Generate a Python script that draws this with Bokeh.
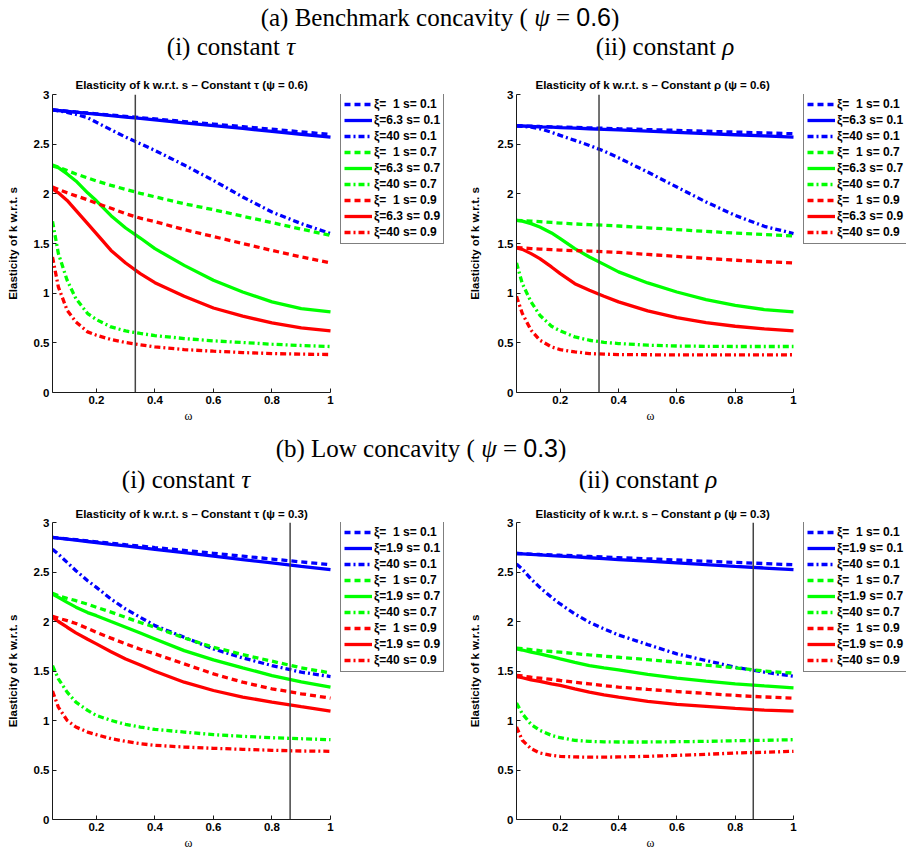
from bokeh.plotting import figure
from bokeh.models import Range1d, FixedTicker, Legend, LegendItem, Div, Title
from bokeh.layouts import column, row
from bokeh.embed import file_html
from bokeh.resources import INLINE

# ---------------- data ----------------
OMEGA = [0.05, 0.07, 0.10, 0.13, 0.17, 0.20, 0.25, 0.30, 0.35, 0.40,
         0.50, 0.60, 0.70, 0.80, 0.90, 1.00]

X_TICKS = [0.2, 0.4, 0.6, 0.8, 1.0]
X_TICK_LABELS = ["0.2", "0.4", "0.6", "0.8", "1"]
Y_TICKS = [0, 0.5, 1, 1.5, 2, 2.5, 3]
Y_TICK_LABELS = ["0", "0.5", "1", "1.5", "2", "2.5", "3"]
X_LIMITS = [0.05, 1.0]
Y_LIMITS = [0, 3]

S_LABELS = ["0.1", "0.7", "0.9"]
XI_LABELS_TOP = ["\u00a0\u00a01", "6.3", "40"]
XI_LABELS_BOTTOM = ["\u00a0\u00a01", "1.9", "40"]

VLINE_TOP = 0.333
VLINE_BOTTOM = 0.862

# (a) psi = 0.6, constant tau
A_TAU_S01_XI1 = [2.845, 2.840, 2.832, 2.824, 2.814, 2.806, 2.793, 2.780, 2.767, 2.754, 2.728, 2.702, 2.676, 2.650, 2.624, 2.598]
A_TAU_S01_XIM = [2.845, 2.839, 2.831, 2.822, 2.810, 2.802, 2.787, 2.773, 2.759, 2.744, 2.715, 2.687, 2.658, 2.629, 2.600, 2.571]
A_TAU_S01_XI40 = [2.845, 2.835, 2.820, 2.800, 2.766, 2.720, 2.645, 2.571, 2.504, 2.437, 2.290, 2.135, 1.968, 1.817, 1.700, 1.600]
A_TAU_S07_XI1 = [2.290, 2.270, 2.235, 2.200, 2.160, 2.130, 2.085, 2.045, 2.005, 1.970, 1.900, 1.840, 1.775, 1.710, 1.645, 1.582]
A_TAU_S07_XIM = [2.280, 2.263, 2.200, 2.130, 2.010, 1.930, 1.780, 1.656, 1.555, 1.448, 1.280, 1.130, 1.012, 0.912, 0.845, 0.811]
A_TAU_S07_XI40 = [1.723, 1.400, 1.130, 0.945, 0.795, 0.734, 0.660, 0.620, 0.595, 0.573, 0.543, 0.520, 0.503, 0.486, 0.473, 0.463]
A_TAU_S09_XI1 = [2.068, 2.045, 2.010, 1.980, 1.940, 1.905, 1.855, 1.800, 1.755, 1.720, 1.640, 1.570, 1.500, 1.430, 1.365, 1.304]
A_TAU_S09_XIM = [2.050, 2.010, 1.934, 1.834, 1.700, 1.600, 1.430, 1.304, 1.197, 1.106, 0.969, 0.851, 0.768, 0.700, 0.650, 0.620]
A_TAU_S09_XI40 = [1.364, 1.063, 0.828, 0.711, 0.610, 0.577, 0.533, 0.503, 0.480, 0.459, 0.432, 0.416, 0.402, 0.392, 0.386, 0.382]

# (a) psi = 0.6, constant rho
A_RHO_S01_XI1 = [2.685, 2.683, 2.681, 2.678, 2.675, 2.672, 2.668, 2.664, 2.660, 2.655, 2.647, 2.639, 2.630, 2.622, 2.613, 2.605]
A_RHO_S01_XIM = [2.685, 2.683, 2.679, 2.675, 2.671, 2.667, 2.661, 2.655, 2.649, 2.643, 2.631, 2.619, 2.607, 2.595, 2.583, 2.571]
A_RHO_S01_XI40 = [2.685, 2.680, 2.672, 2.655, 2.620, 2.588, 2.538, 2.487, 2.430, 2.363, 2.219, 2.068, 1.918, 1.783, 1.673, 1.600]
A_RHO_S07_XI1 = [1.733, 1.731, 1.726, 1.720, 1.712, 1.706, 1.697, 1.690, 1.684, 1.676, 1.658, 1.640, 1.622, 1.605, 1.590, 1.576]
A_RHO_S07_XIM = [1.733, 1.726, 1.700, 1.666, 1.606, 1.549, 1.448, 1.364, 1.290, 1.214, 1.103, 1.012, 0.935, 0.878, 0.835, 0.811]
A_RHO_S07_XI40 = [1.304, 1.096, 0.912, 0.778, 0.667, 0.620, 0.560, 0.526, 0.505, 0.493, 0.476, 0.468, 0.465, 0.463, 0.463, 0.463]
A_RHO_S09_XI1 = [1.458, 1.455, 1.449, 1.444, 1.438, 1.434, 1.428, 1.424, 1.418, 1.410, 1.390, 1.370, 1.350, 1.332, 1.317, 1.304]
A_RHO_S09_XIM = [1.455, 1.441, 1.398, 1.348, 1.264, 1.197, 1.096, 1.029, 0.969, 0.912, 0.821, 0.754, 0.704, 0.667, 0.640, 0.620]
A_RHO_S09_XI40 = [0.969, 0.795, 0.627, 0.526, 0.459, 0.432, 0.409, 0.392, 0.386, 0.382, 0.380, 0.379, 0.379, 0.379, 0.379, 0.380]

# (b) psi = 0.3, constant tau
B_TAU_S01_XI1 = [2.849, 2.843, 2.834, 2.826, 2.814, 2.805, 2.791, 2.776, 2.762, 2.747, 2.718, 2.689, 2.660, 2.631, 2.602, 2.573]
B_TAU_S01_XIM = [2.849, 2.842, 2.832, 2.822, 2.808, 2.798, 2.780, 2.763, 2.746, 2.729, 2.695, 2.660, 2.626, 2.592, 2.557, 2.523]
B_TAU_S01_XI40 = [2.731, 2.680, 2.597, 2.513, 2.412, 2.345, 2.227, 2.126, 2.042, 1.958, 1.841, 1.723, 1.632, 1.555, 1.488, 1.444]
B_TAU_S07_XI1 = [2.284, 2.260, 2.234, 2.210, 2.175, 2.143, 2.095, 2.042, 1.990, 1.942, 1.834, 1.740, 1.666, 1.599, 1.532, 1.481]
B_TAU_S07_XIM = [2.277, 2.245, 2.193, 2.145, 2.090, 2.059, 2.000, 1.942, 1.883, 1.824, 1.706, 1.612, 1.532, 1.454, 1.390, 1.337]
B_TAU_S07_XI40 = [1.555, 1.421, 1.287, 1.186, 1.102, 1.051, 1.001, 0.961, 0.934, 0.910, 0.883, 0.857, 0.840, 0.826, 0.816, 0.806]
B_TAU_S09_XI1 = [2.052, 2.033, 2.009, 1.980, 1.930, 1.891, 1.832, 1.774, 1.720, 1.673, 1.572, 1.471, 1.387, 1.320, 1.270, 1.226]
B_TAU_S09_XIM = [2.042, 2.000, 1.942, 1.885, 1.820, 1.774, 1.695, 1.622, 1.560, 1.498, 1.387, 1.303, 1.236, 1.186, 1.140, 1.095]
B_TAU_S09_XI40 = [1.297, 1.135, 1.001, 0.934, 0.883, 0.857, 0.816, 0.789, 0.766, 0.749, 0.732, 0.719, 0.709, 0.699, 0.692, 0.689]

# (b) psi = 0.3, constant rho
B_RHO_S01_XI1 = [2.687, 2.685, 2.681, 2.677, 2.673, 2.669, 2.663, 2.657, 2.651, 2.645, 2.633, 2.621, 2.609, 2.597, 2.585, 2.573]
B_RHO_S01_XIM = [2.687, 2.684, 2.678, 2.673, 2.666, 2.661, 2.652, 2.644, 2.635, 2.626, 2.609, 2.592, 2.575, 2.557, 2.540, 2.523]
B_RHO_S01_XI40 = [2.580, 2.529, 2.429, 2.345, 2.244, 2.177, 2.076, 1.992, 1.925, 1.864, 1.767, 1.673, 1.606, 1.538, 1.488, 1.448]
B_RHO_S07_XI1 = [1.730, 1.725, 1.715, 1.706, 1.697, 1.690, 1.676, 1.662, 1.650, 1.639, 1.614, 1.589, 1.560, 1.532, 1.500, 1.478]
B_RHO_S07_XIM = [1.723, 1.712, 1.690, 1.672, 1.645, 1.622, 1.588, 1.555, 1.532, 1.512, 1.465, 1.428, 1.397, 1.371, 1.350, 1.330]
B_RHO_S07_XI40 = [1.176, 1.068, 0.961, 0.900, 0.850, 0.826, 0.800, 0.789, 0.785, 0.783, 0.783, 0.786, 0.789, 0.796, 0.800, 0.806]
B_RHO_S09_XI1 = [1.455, 1.450, 1.437, 1.428, 1.415, 1.404, 1.386, 1.370, 1.352, 1.337, 1.314, 1.293, 1.273, 1.253, 1.238, 1.226]
B_RHO_S09_XIM = [1.444, 1.432, 1.411, 1.395, 1.370, 1.354, 1.320, 1.287, 1.260, 1.236, 1.193, 1.162, 1.142, 1.122, 1.105, 1.095]
B_RHO_S09_XI40 = [0.934, 0.800, 0.715, 0.672, 0.648, 0.638, 0.632, 0.630, 0.630, 0.632, 0.638, 0.648, 0.658, 0.672, 0.679, 0.689]

PANEL_A_TAU = [[A_TAU_S01_XI1, A_TAU_S01_XIM, A_TAU_S01_XI40],
               [A_TAU_S07_XI1, A_TAU_S07_XIM, A_TAU_S07_XI40],
               [A_TAU_S09_XI1, A_TAU_S09_XIM, A_TAU_S09_XI40]]
PANEL_A_RHO = [[A_RHO_S01_XI1, A_RHO_S01_XIM, A_RHO_S01_XI40],
               [A_RHO_S07_XI1, A_RHO_S07_XIM, A_RHO_S07_XI40],
               [A_RHO_S09_XI1, A_RHO_S09_XIM, A_RHO_S09_XI40]]
PANEL_B_TAU = [[B_TAU_S01_XI1, B_TAU_S01_XIM, B_TAU_S01_XI40],
               [B_TAU_S07_XI1, B_TAU_S07_XIM, B_TAU_S07_XI40],
               [B_TAU_S09_XI1, B_TAU_S09_XIM, B_TAU_S09_XI40]]
PANEL_B_RHO = [[B_RHO_S01_XI1, B_RHO_S01_XIM, B_RHO_S01_XI40],
               [B_RHO_S07_XI1, B_RHO_S07_XIM, B_RHO_S07_XI40],
               [B_RHO_S09_XI1, B_RHO_S09_XIM, B_RHO_S09_XI40]]

# ---------------- styles ----------------
COLORS = ["#0000ff", "#00ff00", "#ff0000"]
DASHES = ["6 4", "solid", "6 3 2 3"]
SANS = "Liberation Sans"
SERIF = "Liberation Serif"


def make_panel(series, xi_labels, title, vline_x, width, height, b_left,
               axis_w, b_top, b_bottom, title_standoff, title_offset,
               ylab_standoff, omega_offset):
    # the plotting frame runs to the figure's right edge so that the legend
    # (drawn in the frame) is not clipped; the axis itself is bounded to X_LIMITS
    frame_w = width - b_left
    frame_h = height - b_top - b_bottom
    span = X_LIMITS[1] - X_LIMITS[0]
    x_end = X_LIMITS[0] + span * frame_w / axis_w
    p = figure(width=width, height=height, output_backend="svg",
               toolbar_location=None, x_range=Range1d(X_LIMITS[0], x_end),
               y_range=Range1d(*Y_LIMITS),
               min_border_left=b_left, min_border_right=0,
               min_border_top=b_top, min_border_bottom=b_bottom,
               background_fill_color="white", border_fill_color="white")
    p.outline_line_color = None
    p.grid.visible = False

    p.title.text = title
    p.title.text_font = SANS
    p.title.text_font_style = "bold"
    p.title.text_font_size = "11.5px"
    p.title.text_color = "black"
    p.title.align = "left"
    p.title.offset = title_offset
    p.title.standoff = title_standoff

    for ax in (p.xaxis[0], p.yaxis[0]):
        ax.major_tick_in = 4
        ax.major_tick_out = 0
        ax.minor_tick_line_color = None
        ax.axis_line_color = "#1a1a1a"
        ax.major_tick_line_color = "#1a1a1a"
        ax.major_label_text_font = SANS
        ax.major_label_text_font_style = "bold"
        ax.major_label_text_font_size = "11.5px"
        ax.major_label_text_color = "black"
        ax.major_label_standoff = 3

    p.xaxis.bounds = tuple(X_LIMITS)
    p.xaxis.ticker = FixedTicker(ticks=X_TICKS)
    p.xaxis.major_label_overrides = dict(zip(X_TICKS, X_TICK_LABELS))
    p.yaxis.ticker = FixedTicker(ticks=Y_TICKS)
    p.yaxis.major_label_overrides = dict(zip(Y_TICKS, Y_TICK_LABELS))

    p.add_layout(Title(text="ω", align="left", offset=omega_offset,
                       text_font=SERIF, text_font_style="normal",
                       text_font_size="12px", text_color="black", standoff=0),
                 "below")

    p.yaxis.axis_label = "Elasticity of k w.r.t. s"
    p.yaxis.axis_label_text_font = SANS
    p.yaxis.axis_label_text_font_style = "bold"
    p.yaxis.axis_label_text_font_size = "11.5px"
    p.yaxis.axis_label_text_color = "black"
    p.yaxis.axis_label_standoff = ylab_standoff

    items = []
    for si, group in enumerate(series):
        for xi, ys in enumerate(group):
            r = p.line(OMEGA, ys, line_color=COLORS[si], line_width=3.3,
                       line_dash=DASHES[xi])
            items.append(LegendItem(label="ξ=" + xi_labels[xi] + " s= " + S_LABELS[si],
                                    renderers=[r]))

    p.line([vline_x, vline_x], Y_LIMITS, line_color="#444444", line_width=1.5)

    legend_h = 9 * 16 + 2 * 3
    legend = Legend(items=items, location=(axis_w + 10, frame_h - legend_h),
                    padding=3, spacing=0, margin=0,
                    label_height=16, glyph_height=16, glyph_width=28,
                    label_standoff=2, label_text_font=SANS,
                    label_text_font_style="bold", label_text_font_size="12px",
                    label_text_color="black",
                    border_line_color="black", border_line_width=1.5,
                    background_fill_color="white", background_fill_alpha=1)
    p.add_layout(legend)
    return p


def heading_div(height, head_text, head_x, head_y, sub_x1, sub_x2, sub_y, psi):
    span = ("position:absolute;transform:translate(-50%,-50%);white-space:nowrap;"
            "font-family:'Liberation Serif';font-size:25px;line-height:25px;color:black;")
    html = (
        f"<div style=\"position:relative;width:906px;height:{height}px;\">"
        f"<span style=\"{span}left:{head_x}px;top:{head_y}px;\">{head_text} ( <i>ψ</i> = "
        f"<span style=\"font-family:'Liberation Sans';\">{psi}</span>)</span>"
        f"<span style=\"{span}left:{sub_x1}px;top:{sub_y}px;\">(i) constant <i>τ</i></span>"
        f"<span style=\"{span}left:{sub_x2}px;top:{sub_y}px;\">(ii) constant <i>ρ</i></span>"
        "</div>"
    )
    return Div(text=html, width=906, height=height, margin=0)


div_a = heading_div(62, "(a) Benchmark concavity", 440, 17, 231, 665, 46, "0.6")
div_b = heading_div(65, "(b) Low concavity", 421, 21, 186, 648, 52, "0.3")

f1 = make_panel(PANEL_A_TAU, XI_LABELS_TOP,
                "Elasticity of k w.r.t. s – Constant τ (ψ = 0.6)", VLINE_TOP,
                453, 365, 52, 278, 32, 35, 8, 23, 12, 132)
f2 = make_panel(PANEL_A_RHO, XI_LABELS_TOP,
                "Elasticity of k w.r.t. s – Constant ρ (ψ = 0.6)", VLINE_TOP,
                453, 365, 63, 277, 32, 35, 8, 19, 14, 130)
f3 = make_panel(PANEL_B_TAU, XI_LABELS_BOTTOM,
                "Elasticity of k w.r.t. s – Constant τ (ψ = 0.3)", VLINE_BOTTOM,
                453, 359, 52, 278, 30, 32, 5, 23, 12, 132)
f4 = make_panel(PANEL_B_RHO, XI_LABELS_BOTTOM,
                "Elasticity of k w.r.t. s – Constant ρ (ψ = 0.3)", VLINE_BOTTOM,
                453, 359, 63, 277, 30, 32, 5, 19, 14, 130)

layout = column(div_a, row(f1, f2), div_b, row(f3, f4))

open("out.html", "w").write(file_html(layout, INLINE))
